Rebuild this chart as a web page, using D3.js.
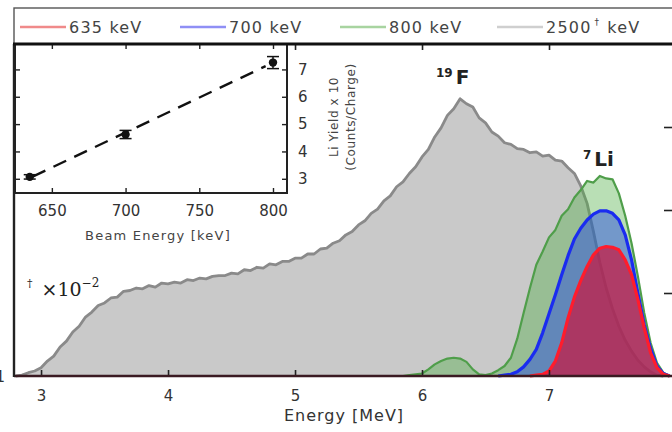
<!DOCTYPE html>
<html>
<head>
<meta charset="utf-8">
<script src="https://cdn.jsdelivr.net/npm/d3@7"></script>
<style>
  body { margin: 0; background: #fff; }
  svg { display: block; font-family: "DejaVu Sans", sans-serif; }
</style>
</head>
<body>
<svg id="chart" width="672" height="432"></svg>
<script>
// spectra, counts (arb.) vs energy [MeV]
var grayE = [2.80,2.85,2.90,2.95,3.00,3.05,3.10,3.15,3.20,3.25,3.30,3.35,3.40,3.45,3.50,3.55,3.60,3.65,3.70,3.75,3.80,3.85,3.90,3.95,4.00,4.05,4.10,4.15,4.20,4.25,4.30,4.35,4.40,4.45,4.50,4.55,4.60,4.65,4.70,4.75,4.80,4.85,4.90,4.95,5.00,5.05,5.10,5.15,5.20,5.25,5.30,5.35,5.40,5.45,5.50,5.55,5.60,5.65,5.70,5.75,5.80,5.85,5.90,5.95,6.00,6.05,6.10,6.15,6.20,6.25,6.30,6.35,6.40,6.45,6.50,6.55,6.60,6.65,6.70,6.75,6.80,6.85,6.90,6.95,7.00,7.05,7.10,7.15,7.20,7.25,7.30,7.35,7.40,7.45,7.50,7.55,7.60,7.65,7.70,7.75,7.80,7.85,7.90];
var grayCounts = [0,1,4,6,10,18,24,35,42,53,60,71,77,85,88,94,95,102,103,106,105,109,107,112,111,113,112,116,115,118,117,120,121,121,124,123,128,127,131,130,135,134,138,138,142,142,147,147,153,154,160,163,170,174,182,187,196,201,211,217,228,234,244,252,264,273,288,299,314,322,334,328,324,311,305,294,289,281,279,274,273,269,270,265,266,260,259,251,244,229,208,174,137,106,81,60,43,30,19,11,5,1,0];

var greenE = [5.80,5.85,5.90,5.95,6.00,6.05,6.10,6.15,6.20,6.25,6.30,6.35,6.40,6.45,6.50,6.55,6.60,6.65,6.70,6.75,6.80,6.85,6.90,6.95,7.00,7.05,7.10,7.15,7.20,7.25,7.30,7.35,7.40,7.45,7.50,7.55,7.60,7.65,7.70,7.75,7.80,7.85,7.90,7.95];
var greenCounts = [0,0,1,2,3,8,14,18,21,22,21,17,8,2,1,3,7,12,22,45,76,106,134,150,167,176,193,201,215,224,235,233,241,238,237,220,193,160,120,76,40,16,4,0];

var blueE = [6.60,6.65,6.70,6.75,6.80,6.85,6.90,6.95,7.00,7.05,7.10,7.15,7.20,7.25,7.30,7.35,7.40,7.45,7.50,7.55,7.60,7.65,7.70,7.75,7.80,7.85,7.90,7.95];
var blueCounts = [0,1,2,5,11,20,32,52,75,98,122,145,165,178,188,195,199,199,196,188,170,140,100,62,33,12,3,0];

var redE = [6.85,6.90,6.95,7.00,7.05,7.10,7.15,7.20,7.25,7.30,7.35,7.40,7.45,7.50,7.55,7.60,7.65,7.70,7.75,7.80,7.85,7.90,7.95];
var redCounts = [0,1,2,6,18,40,70,95,115,132,146,154,156,155,152,140,122,92,58,28,10,2,0];

// inset: Li yield vs beam energy
var beamEnergy = [635, 700, 800];
var liYield = [3.07, 4.62, 7.25];
var liYieldErr = [0.08, 0.15, 0.22];
var fitEnergy = [637, 795];
var fitYield = [3.08, 7.12];

var xTicks = [3, 4, 5, 6, 7, 8];
var yTicks = [100, 200, 300];
var insetXTicks = [650, 700, 750, 800];
var insetYTicks = [3, 4, 5, 6, 7];

var legendLabels = ["635 keV", "700 keV", "800 keV", "2500"];

var svg = d3.select("#chart");
var ink = "#333";

// main axes
var x = d3.scaleLinear().domain([2.787, 8.0]).range([14, 676]);
var y = d3.scaleLinear().domain([0, 400]).range([376, 44]);

function series(E, C) {
  return E.map(function (e, i) { return [e, C[i]]; });
}
var area = d3.area().x(function (d) { return x(d[0]); }).y0(y(0)).y1(function (d) { return y(d[1]); });
var line = d3.line().x(function (d) { return x(d[0]); }).y(function (d) { return y(d[1]); });

var layers = [
  { E: grayE, C: grayCounts, fill: "#c9c9c9", stroke: "#8a8a8a", w: 2.8 },
  { E: greenE, C: greenCounts, fill: "rgba(80,175,70,0.40)", stroke: "#4f9e4a", w: 2.2 },
  { E: blueE, C: blueCounts, fill: "rgba(40,75,225,0.48)", stroke: "#1a2cf0", w: 3.2 },
  { E: redE, C: redCounts, fill: "rgba(200,25,65,0.72)", stroke: "#ff1c2c", w: 3.2 }
];
layers.forEach(function (l) {
  var d = series(l.E, l.C);
  svg.append("path").attr("d", area(d)).attr("fill", l.fill);
  svg.append("path").attr("d", line(d)).attr("fill", "none")
    .attr("stroke", l.stroke).attr("stroke-width", l.w).attr("stroke-linejoin", "round");
});

// main axis ticks (inward)
var gx = svg.append("g").attr("transform", "translate(0,376)")
  .call(d3.axisBottom(x).tickValues(xTicks).tickSizeInner(-6).tickSizeOuter(0).tickPadding(14).tickFormat(d3.format("d")));
var gxt = svg.append("g").attr("transform", "translate(0,44)")
  .call(d3.axisTop(x).tickValues(xTicks).tickSizeInner(-6).tickSizeOuter(0).tickFormat(""));
var gyr = svg.append("g").attr("transform", "translate(676,0)")
  .call(d3.axisRight(y).tickValues(yTicks).tickSizeInner(-12).tickSizeOuter(0).tickFormat(""));
[gx, gxt, gyr].forEach(function (g) {
  g.select(".domain").remove();
  g.selectAll("line").attr("stroke", "#222").attr("stroke-width", 1.6);
  g.selectAll("text").attr("fill", ink).attr("font-size", 15).attr("font-family", "DejaVu Sans");
});

svg.append("text").attr("x", 344).attr("y", 421).attr("text-anchor", "middle")
  .attr("font-size", 16).attr("letter-spacing", 1).attr("fill", ink).text("Energy [MeV]");

// cut-off left tick label
svg.append("text").attr("x", 5).attr("y", 382).attr("text-anchor", "end")
  .attr("font-size", 15).attr("fill", ink).text("1");

// spines
svg.append("line").attr("x1", 14).attr("x2", 680).attr("y1", 376).attr("y2", 376).attr("stroke", "#3a1a22").attr("stroke-width", 2.6);
svg.append("line").attr("x1", 14).attr("x2", 14).attr("y1", 44).attr("y2", 377).attr("stroke", "#222").attr("stroke-width", 2.4);

// annotations
var f = svg.append("text").attr("x", 436).attr("y", 84).attr("fill", "#222").attr("font-size", 20).attr("font-weight", "bold");
f.append("tspan").attr("font-size", 12).attr("dy", -7).text("19");
f.append("tspan").attr("dx", 3).attr("dy", 7).text("F");
var li = svg.append("text").attr("x", 583).attr("y", 166).attr("fill", "#222").attr("font-size", 20).attr("font-weight", "bold");
li.append("tspan").attr("font-size", 12).attr("dy", -7).text("7");
li.append("tspan").attr("dx", 3).attr("dy", 7).text("Li");
var sc = svg.append("text").attr("x", 27).attr("y", 296).attr("fill", "#222")
  .attr("font-family", "DejaVu Serif").attr("font-size", 19);
sc.append("tspan").attr("font-size", 11).attr("dy", -9).text("\u2020");
sc.append("tspan").attr("dx", 9).attr("dy", 9).text("\u00d710");
sc.append("tspan").attr("font-size", 12).attr("dy", -9).text("\u22122");

// inset
var ix = d3.scaleLinear().domain([625, 809.5]).range([15, 287]);
var iy = d3.scaleLinear().domain([2.48, 7.93]).range([193, 44]);
svg.append("rect").attr("x", 15).attr("y", 44).attr("width", 272).attr("height", 149).attr("fill", "#fff");

svg.append("path")
  .attr("d", d3.line().x(function (d) { return ix(d[0]); }).y(function (d) { return iy(d[1]); })(series(fitEnergy, fitYield)))
  .attr("fill", "none").attr("stroke", "#111").attr("stroke-width", 2.4).attr("stroke-dasharray", "14,9");

var pts = svg.append("g");
beamEnergy.forEach(function (e, i) {
  var cx = ix(e), cy = iy(liYield[i]);
  var y1 = iy(liYield[i] - liYieldErr[i]), y2 = iy(liYield[i] + liYieldErr[i]);
  pts.append("line").attr("x1", cx).attr("x2", cx).attr("y1", y1).attr("y2", y2).attr("stroke", "#111").attr("stroke-width", 1.5);
  [y1, y2].forEach(function (yy) {
    pts.append("line").attr("x1", cx - 6).attr("x2", cx + 6).attr("y1", yy).attr("y2", yy).attr("stroke", "#111").attr("stroke-width", 1.5);
  });
  pts.append("circle").attr("cx", cx).attr("cy", cy).attr("r", 4.2).attr("fill", "#111");
});

var ib = svg.append("g").attr("transform", "translate(0,193)")
  .call(d3.axisBottom(ix).tickValues(insetXTicks).tickSizeInner(-5).tickSizeOuter(0).tickPadding(12).tickFormat(d3.format("d")));
var it = svg.append("g").attr("transform", "translate(0,44)")
  .call(d3.axisTop(ix).tickValues(insetXTicks).tickSizeInner(-5).tickSizeOuter(0).tickFormat(""));
var ir = svg.append("g").attr("transform", "translate(287,0)")
  .call(d3.axisRight(iy).tickValues(insetYTicks).tickSizeInner(-5).tickSizeOuter(0).tickPadding(11).tickFormat(d3.format("d")));
var il = svg.append("g").attr("transform", "translate(15,0)")
  .call(d3.axisLeft(iy).tickValues(insetYTicks).tickSizeInner(-5).tickSizeOuter(0).tickFormat(""));
[ib, it, ir, il].forEach(function (g) {
  g.select(".domain").remove();
  g.selectAll("line").attr("stroke", "#222").attr("stroke-width", 1.4);
  g.selectAll("text").attr("fill", ink).attr("font-size", 15).attr("font-family", "DejaVu Sans");
});
svg.append("rect").attr("x", 15).attr("y", 44).attr("width", 272).attr("height", 149)
  .attr("fill", "none").attr("stroke", "#222").attr("stroke-width", 2);

svg.append("text").attr("x", 158).attr("y", 240).attr("text-anchor", "middle")
  .attr("font-size", 13).attr("letter-spacing", 1.2).attr("fill", "#444").text("Beam Energy [keV]");
svg.append("text").attr("transform", "translate(338,117) rotate(-90)").attr("text-anchor", "middle")
  .attr("font-size", 12).attr("letter-spacing", 0.6).attr("fill", "#444").text("Li Yield x 10");
svg.append("text").attr("transform", "translate(355,117) rotate(-90)").attr("text-anchor", "middle")
  .attr("font-size", 12).attr("letter-spacing", 0.6).attr("fill", "#444").text("(Counts/Charge)");

// legend
svg.append("rect").attr("x", 14).attr("y", 8).attr("width", 680).attr("height", 36)
  .attr("fill", "#fff").attr("stroke", "#555").attr("stroke-width", 1.4);
svg.append("line").attr("x1", 13).attr("x2", 680).attr("y1", 44).attr("y2", 44).attr("stroke", "#111").attr("stroke-width", 3);
var legendColors = ["#f08a8a", "#8f8ff5", "#a8d4a0", "#cfcfcf"];
var legendX = [20, 180, 340, 497];
legendLabels.forEach(function (lab, i) {
  svg.append("line").attr("x1", legendX[i]).attr("x2", legendX[i] + 46).attr("y1", 27).attr("y2", 27)
    .attr("stroke", legendColors[i]).attr("stroke-width", 2.4);
  var t = svg.append("text").attr("x", legendX[i] + 49).attr("y", 33).attr("font-size", 16)
    .attr("letter-spacing", 1.2).attr("fill", "#444").text(lab);
  if (i === 3) {
    t.append("tspan").attr("font-size", 9).attr("dy", -8).attr("dx", 3).text("\u2020");
    t.append("tspan").attr("dy", 8).attr("dx", 7).text("keV");
  }
});
</script>
</body>
</html>
